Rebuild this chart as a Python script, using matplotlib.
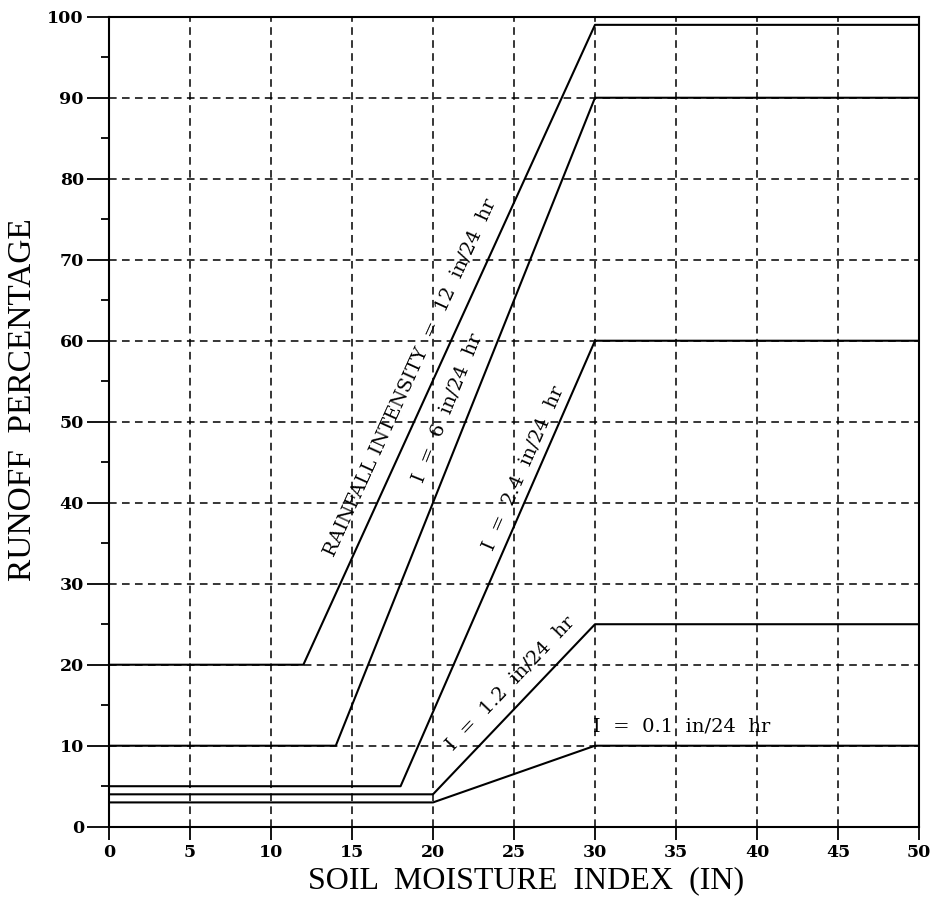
import numpy as np
import matplotlib
matplotlib.use('Agg')
import matplotlib.pyplot as plt

# Soil moisture index (in) break points and runoff percentage for each intensity
sm_12 = [0, 12, 30, 50]
ro_12 = [20, 20, 99, 99]
sm_6 = [0, 14, 30, 50]
ro_6 = [10, 10, 90, 90]
sm_24 = [0, 18, 30, 50]
ro_24 = [5, 5, 60, 60]
sm_12b = [0, 20, 30, 50]
ro_12b = [4, 4, 25, 25]
sm_01 = [0, 20, 30, 50]
ro_01 = [3, 3, 10, 10]

x_ticks = list(range(0, 55, 5))
y_ticks = list(range(0, 110, 10))

fig = plt.figure(figsize=(9.33, 9.05), dpi=100)
ax = fig.add_axes([0.1168, 0.0865, 0.8682, 0.895])

# grid first so the curves sit on top
dash = (0, (5, 3.5))
for xv in x_ticks[1:-1]:
    ax.axvline(xv, color='black', lw=1.1, ls=dash, zorder=1)
for yv in y_ticks[1:-1]:
    ax.axhline(yv, color='black', lw=1.1, ls=dash, zorder=1)

for xs, ys in [(sm_12, ro_12), (sm_6, ro_6), (sm_24, ro_24),
               (sm_12b, ro_12b), (sm_01, ro_01)]:
    ax.plot(xs, ys, color='black', lw=1.5, zorder=3)

ax.set_xlim(0, 50)
ax.set_ylim(0, 100)
ax.set_xticks(x_ticks)
ax.set_yticks(y_ticks)
ax.set_yticks(list(range(5, 100, 10)), minor=True)
ax.tick_params(axis='y', which='major', direction='out', length=16,
               width=1.3, pad=2)
ax.tick_params(axis='y', which='minor', direction='out', length=6, width=1.3)
ax.tick_params(axis='x', which='major', direction='out', length=9.5,
               width=1.3, pad=3)
for lab in ax.get_xticklabels() + ax.get_yticklabels():
    lab.set_fontfamily('DejaVu Serif')
    lab.set_fontweight('bold')
    lab.set_fontsize(12.5)
for sp in ax.spines.values():
    sp.set_linewidth(1.5)

ax.set_xlabel('SOIL  MOISTURE  INDEX  (IN)', fontfamily='Liberation Serif',
              fontsize=23, va='center')
ax.xaxis.set_label_coords(0.515, -0.067)
ax.set_ylabel('RUNOFF  PERCENTAGE', fontfamily='Liberation Serif',
              fontsize=24, va='center')
ax.yaxis.set_label_coords(-0.107, 0.527)

# labels along the sloping part of each curve
def slope_deg(xs, ys, i):
    return np.degrees(np.arctan2(ys[i + 1] - ys[i], xs[i + 1] - xs[i]))

lab_kw = dict(fontfamily='DejaVu Serif', fontsize=14, ha='center',
              va='center', rotation_mode='anchor',
              transform_rotates_text=True, zorder=4)
ax.text(18.6, 55.4, 'RAINFALL INTENSITY  =  12  in/24  hr',
        rotation=slope_deg(sm_12, ro_12, 1), **lab_kw)
ax.text(20.9, 51.7, 'I  =  6  in/24  hr',
        rotation=slope_deg(sm_6, ro_6, 1), **lab_kw)
ax.text(25.6, 44.3, 'I  =  2.4  in/24  hr',
        rotation=slope_deg(sm_24, ro_24, 1), **lab_kw)
ax.text(24.8, 17.7, 'I  =  1.2  in/24  hr',
        rotation=slope_deg(sm_12b, ro_12b, 1), **lab_kw)
ax.text(29.9, 12.4, 'I  =  0.1  in/24  hr', fontfamily='DejaVu Serif',
        fontsize=14, ha='left', va='center', zorder=4)

fig.savefig('out.png', dpi=100)
